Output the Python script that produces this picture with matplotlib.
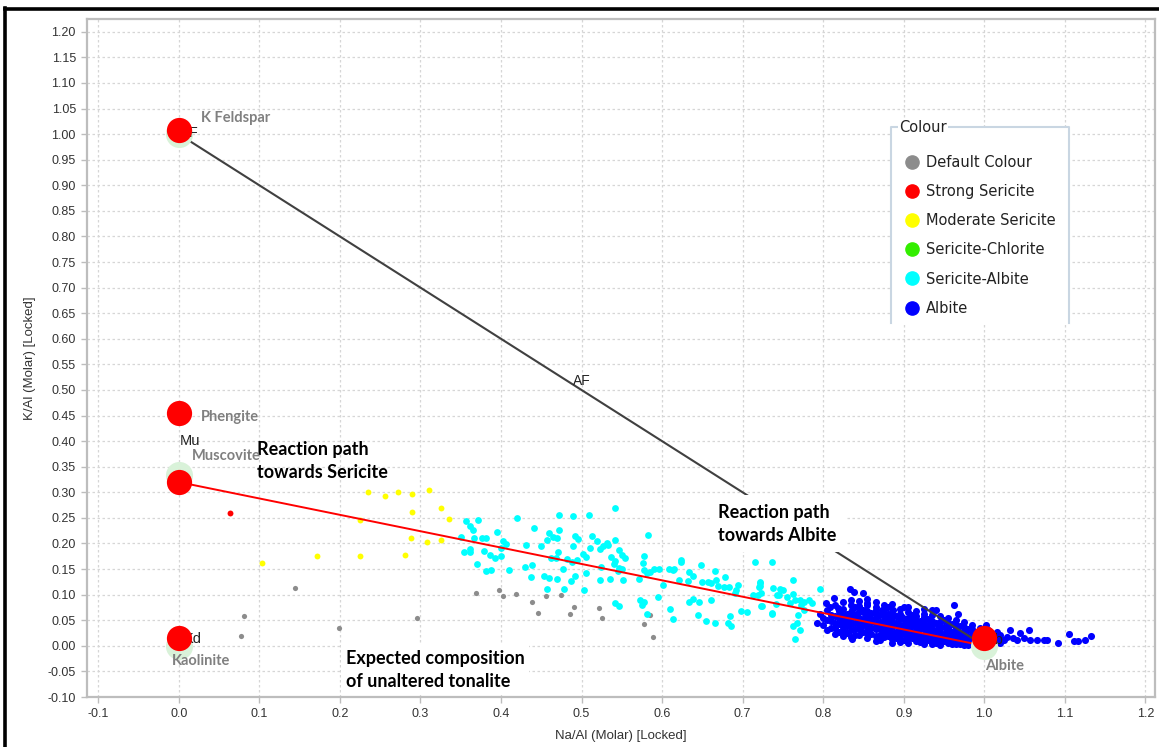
import matplotlib.pyplot as plt
from matplotlib.lines import Line2D
from matplotlib.patches import Rectangle
from matplotlib.ticker import MultipleLocator, FormatStrFormatter

# Na/Al vs K/Al (molar) for each alteration class, as (na, k) pairs
default_colour = [
    (0.077, 0.019), (0.081, 0.058), (0.144, 0.113), (0.199, 0.034), (0.296, 0.054),
    (0.369, 0.104), (0.398, 0.110), (0.403, 0.097), (0.419, 0.101), (0.438, 0.086),
    (0.446, 0.064), (0.456, 0.098), (0.475, 0.099), (0.491, 0.076), (0.486, 0.062),
    (0.522, 0.073), (0.525, 0.054), (0.578, 0.043), (0.585, 0.060), (0.589, 0.018),
]
strong_sericite = [(0.063, 0.260)]
moderate_sericite = [
    (0.103, 0.161), (0.172, 0.176), (0.225, 0.245), (0.225, 0.175), (0.235, 0.300),
    (0.256, 0.292), (0.272, 0.301), (0.290, 0.296), (0.289, 0.261), (0.288, 0.211),
    (0.281, 0.177), (0.308, 0.202), (0.311, 0.305), (0.326, 0.270), (0.325, 0.206),
    (0.335, 0.248),
]
sericite_chlorite = []
sericite_albite = [
    (0.356, 0.244), (0.361, 0.234), (0.365, 0.226), (0.372, 0.245), (0.350, 0.213),
    (0.366, 0.211), (0.376, 0.210), (0.381, 0.211), (0.361, 0.189), (0.354, 0.184),
    (0.362, 0.184), (0.379, 0.185), (0.386, 0.177), (0.370, 0.159), (0.382, 0.147),
    (0.388, 0.148), (0.393, 0.171), (0.400, 0.175), (0.395, 0.222), (0.402, 0.204),
    (0.406, 0.199), (0.400, 0.191), (0.410, 0.149), (0.420, 0.250), (0.430, 0.154),
    (0.438, 0.157), (0.431, 0.198), (0.441, 0.231), (0.437, 0.134), (0.450, 0.196),
    (0.453, 0.136), (0.457, 0.207), (0.460, 0.132), (0.457, 0.112), (0.460, 0.221),
    (0.465, 0.213), (0.462, 0.171), (0.468, 0.172), (0.471, 0.184), (0.472, 0.256),
    (0.472, 0.226), (0.470, 0.210), (0.469, 0.130), (0.477, 0.151), (0.478, 0.112),
    (0.482, 0.169), (0.488, 0.164), (0.489, 0.195), (0.494, 0.167), (0.492, 0.215),
    (0.496, 0.209), (0.490, 0.254), (0.492, 0.136), (0.487, 0.127), (0.502, 0.180),
    (0.509, 0.256), (0.505, 0.173), (0.506, 0.142), (0.503, 0.110), (0.511, 0.191),
    (0.513, 0.215), (0.519, 0.205), (0.523, 0.189), (0.524, 0.155), (0.523, 0.128),
    (0.527, 0.195), (0.531, 0.200), (0.533, 0.197), (0.535, 0.131), (0.542, 0.270),
    (0.537, 0.174), (0.540, 0.160), (0.542, 0.207), (0.546, 0.187), (0.542, 0.165),
    (0.545, 0.147), (0.547, 0.152), (0.550, 0.178), (0.554, 0.172), (0.550, 0.150),
    (0.552, 0.129), (0.542, 0.084), (0.547, 0.078), (0.571, 0.130), (0.576, 0.161),
    (0.578, 0.149), (0.578, 0.176), (0.583, 0.216), (0.581, 0.143), (0.585, 0.145),
    (0.590, 0.150), (0.596, 0.150), (0.578, 0.086), (0.575, 0.080), (0.573, 0.090),
    (0.595, 0.095), (0.581, 0.062), (0.601, 0.118), (0.608, 0.150), (0.614, 0.148),
    (0.615, 0.151), (0.621, 0.128), (0.623, 0.167), (0.624, 0.163), (0.633, 0.145),
    (0.632, 0.126), (0.610, 0.071), (0.613, 0.053), (0.634, 0.085), (0.639, 0.092),
    (0.639, 0.137), (0.644, 0.060), (0.646, 0.086), (0.648, 0.158), (0.649, 0.124),
    (0.655, 0.048), (0.657, 0.125), (0.661, 0.089), (0.661, 0.123), (0.666, 0.147),
    (0.666, 0.045), (0.670, 0.117), (0.667, 0.128), (0.678, 0.134), (0.677, 0.115),
    (0.683, 0.114), (0.682, 0.044), (0.684, 0.058), (0.686, 0.038), (0.692, 0.110),
    (0.694, 0.118), (0.690, 0.103), (0.698, 0.068), (0.706, 0.067), (0.713, 0.099),
    (0.715, 0.163), (0.721, 0.123), (0.723, 0.103), (0.721, 0.117), (0.723, 0.078),
    (0.736, 0.163), (0.738, 0.113), (0.736, 0.062), (0.742, 0.082), (0.743, 0.099),
    (0.722, 0.125), (0.720, 0.115), (0.719, 0.099), (0.724, 0.077), (0.736, 0.064),
    (0.747, 0.112), (0.750, 0.110), (0.745, 0.099), (0.755, 0.096), (0.763, 0.128),
    (0.763, 0.102), (0.765, 0.089), (0.759, 0.083), (0.771, 0.089), (0.773, 0.080),
    (0.776, 0.086), (0.769, 0.060), (0.767, 0.044), (0.763, 0.038), (0.771, 0.031),
    (0.765, 0.014), (0.782, 0.089), (0.786, 0.083), (0.796, 0.112), (0.776, 0.070),
]
albite = [
    (0.792, 0.045), (0.796, 0.063), (0.804, 0.084), (0.809, 0.076), (0.814, 0.093),
    (0.815, 0.034), (0.819, 0.073), (0.821, 0.063), (0.825, 0.031), (0.827, 0.050),
    (0.833, 0.112), (0.836, 0.070), (0.838, 0.106), (0.836, 0.013), (0.842, 0.063),
    (0.844, 0.047), (0.846, 0.037), (0.850, 0.104), (0.854, 0.083), (0.852, 0.063),
    (0.856, 0.031), (0.858, 0.057), (0.860, 0.047), (0.865, 0.070), (0.867, 0.018),
    (0.871, 0.041), (0.873, 0.070), (0.875, 0.031), (0.879, 0.054), (0.881, 0.076),
    (0.883, 0.044), (0.887, 0.070), (0.889, 0.018), (0.894, 0.038), (0.898, 0.057),
    (0.900, 0.076), (0.902, 0.044), (0.904, 0.021), (0.908, 0.034), (0.912, 0.050),
    (0.916, 0.012), (0.918, 0.028), (0.921, 0.044), (0.925, 0.057), (0.927, 0.015),
    (0.931, 0.034), (0.935, 0.070), (0.937, 0.025), (0.940, 0.070), (0.943, 0.012),
    (0.945, 0.038), (0.950, 0.021), (0.954, 0.028), (0.958, 0.008), (0.962, 0.080),
    (0.964, 0.038), (0.968, 0.063), (0.966, 0.015), (0.970, 0.012), (0.974, 0.021),
    (0.978, 0.008), (0.983, 0.031), (0.987, 0.021), (1.002, 0.041), (1.016, 0.028),
    (1.020, 0.021), (1.024, 0.012), (1.028, 0.018), (1.032, 0.031), (1.036, 0.015),
    (1.041, 0.012), (1.045, 0.025), (1.049, 0.015), (1.055, 0.030), (1.057, 0.012),
    (1.065, 0.012), (1.074, 0.012), (1.078, 0.012), (1.092, 0.006), (1.105, 0.023),
    (1.111, 0.010), (1.117, 0.010), (1.125, 0.012), (1.133, 0.019),
    (0.800, 0.055), (0.800, 0.040), (0.810, 0.060), (0.810, 0.048), (0.810, 0.035),
    (0.820, 0.068), (0.820, 0.055), (0.820, 0.042), (0.820, 0.028), (0.830, 0.062),
    (0.830, 0.050), (0.830, 0.038), (0.830, 0.026), (0.840, 0.075), (0.840, 0.058),
    (0.840, 0.045), (0.840, 0.032), (0.840, 0.022), (0.850, 0.070), (0.850, 0.052),
    (0.850, 0.040), (0.850, 0.028), (0.860, 0.065), (0.860, 0.050), (0.860, 0.035),
    (0.860, 0.024), (0.870, 0.060), (0.870, 0.047), (0.870, 0.033), (0.870, 0.022),
    (0.870, 0.012), (0.880, 0.062), (0.880, 0.042), (0.880, 0.030), (0.880, 0.020),
    (0.890, 0.058), (0.890, 0.045), (0.890, 0.028), (0.890, 0.015), (0.900, 0.052),
    (0.900, 0.035), (0.900, 0.025), (0.900, 0.012), (0.910, 0.060), (0.910, 0.040),
    (0.910, 0.026), (0.910, 0.016), (0.920, 0.048), (0.920, 0.034), (0.920, 0.020),
    (0.920, 0.008), (0.930, 0.052), (0.930, 0.040), (0.930, 0.026), (0.930, 0.012),
    (0.940, 0.045), (0.940, 0.030), (0.940, 0.018), (0.940, 0.006), (0.950, 0.050),
    (0.950, 0.036), (0.950, 0.024), (0.950, 0.010), (0.960, 0.042), (0.960, 0.028),
    (0.960, 0.016), (0.960, 0.004), (0.970, 0.038), (0.970, 0.025), (0.970, 0.012),
    (0.970, 0.003), (0.980, 0.032), (0.980, 0.020), (0.980, 0.010), (0.980, 0.002),
    (0.990, 0.028), (0.990, 0.015), (0.990, 0.006), (1.000, 0.025), (1.000, 0.005),
    (1.010, 0.020), (1.010, 0.008), (1.020, 0.015), (1.020, 0.005),
    (0.805, 0.070), (0.805, 0.050), (0.805, 0.030), (0.815, 0.080), (0.815, 0.058),
    (0.815, 0.044), (0.815, 0.024), (0.825, 0.085), (0.825, 0.072), (0.825, 0.060),
    (0.825, 0.046), (0.825, 0.036), (0.825, 0.020), (0.835, 0.090), (0.835, 0.080),
    (0.835, 0.066), (0.835, 0.054), (0.835, 0.042), (0.835, 0.030), (0.835, 0.018),
    (0.845, 0.088), (0.845, 0.077), (0.845, 0.066), (0.845, 0.054), (0.845, 0.043),
    (0.845, 0.033), (0.845, 0.022), (0.855, 0.092), (0.855, 0.080), (0.855, 0.068),
    (0.855, 0.058), (0.855, 0.046), (0.855, 0.036), (0.855, 0.025), (0.855, 0.016),
    (0.865, 0.085), (0.865, 0.076), (0.865, 0.064), (0.865, 0.054), (0.865, 0.043),
    (0.865, 0.032), (0.865, 0.020), (0.865, 0.010), (0.875, 0.080), (0.875, 0.070),
    (0.875, 0.060), (0.875, 0.050), (0.875, 0.040), (0.875, 0.028), (0.875, 0.017),
    (0.885, 0.082), (0.885, 0.066), (0.885, 0.056), (0.885, 0.048), (0.885, 0.036),
    (0.885, 0.025), (0.885, 0.013), (0.885, 0.006), (0.895, 0.072), (0.895, 0.063),
    (0.895, 0.052), (0.895, 0.041), (0.895, 0.030), (0.895, 0.020), (0.895, 0.008),
    (0.905, 0.075), (0.905, 0.066), (0.905, 0.055), (0.905, 0.046), (0.905, 0.038),
    (0.905, 0.028), (0.905, 0.016), (0.905, 0.006), (0.915, 0.068), (0.915, 0.058),
    (0.915, 0.048), (0.915, 0.038), (0.915, 0.030), (0.915, 0.020), (0.915, 0.010),
    (0.925, 0.072), (0.925, 0.062), (0.925, 0.050), (0.925, 0.042), (0.925, 0.032),
    (0.925, 0.022), (0.925, 0.012), (0.925, 0.004), (0.935, 0.060), (0.935, 0.048),
    (0.935, 0.040), (0.935, 0.030), (0.935, 0.020), (0.935, 0.010), (0.935, 0.003),
    (0.945, 0.058), (0.945, 0.046), (0.945, 0.036), (0.945, 0.027), (0.945, 0.018),
    (0.945, 0.008), (0.945, 0.002), (0.955, 0.055), (0.955, 0.044), (0.955, 0.034),
    (0.955, 0.024), (0.955, 0.015), (0.955, 0.006), (0.965, 0.050), (0.965, 0.040),
    (0.965, 0.030), (0.965, 0.021), (0.965, 0.012), (0.965, 0.004), (0.975, 0.046),
    (0.975, 0.036), (0.975, 0.027), (0.975, 0.018), (0.975, 0.008), (0.975, 0.001),
    (0.985, 0.040), (0.985, 0.032), (0.985, 0.022), (0.985, 0.014), (0.985, 0.005),
    (0.995, 0.035), (0.995, 0.026), (0.995, 0.018), (0.995, 0.010), (0.995, 0.002),
    (1.005, 0.030), (1.005, 0.022), (1.005, 0.012), (1.005, 0.004), (1.015, 0.024),
    (1.015, 0.016), (1.015, 0.008),
]

# ideal end-members (pale markers) and plotted mineral points (red)
end_member_codes = ["KF", "Mu", "Kd", "Ab"]
end_member_na = [0.0, 0.0, 0.0, 1.0]
end_member_k = [1.0, 0.333, 0.0, 0.0]
mineral_names = ["K Feldspar", "Phengite", "Muscovite", "Kaolinite", "Albite"]
mineral_na = [0.0, 0.0, 0.0, 0.0, 1.0]
mineral_k = [1.008, 0.455, 0.320, 0.015, 0.015]

# reference lines: K feldspar - albite join and muscovite - albite path
af_line_na = [0.0, 1.0]
af_line_k = [1.0, 0.0]
sericite_path_na = [0.0, 1.0]
sericite_path_k = [0.320, 0.0]

groups = [
    ("Default Colour", default_colour, "#8c8c8c", 14),
    ("Strong Sericite", strong_sericite, "#ff0000", 18),
    ("Moderate Sericite", moderate_sericite, "#ffff00", 18),
    ("Sericite-Chlorite", sericite_chlorite, "#33ee00", 22),
    ("Sericite-Albite", sericite_albite, "#00ffff", 24),
    ("Albite", albite, "#0000ff", 26),
]

fig = plt.figure(figsize=(11.59, 7.47), dpi=100)
ax = fig.add_axes([87 / 1159, 1 - 697 / 747, 1068 / 1159, 678 / 747])

ax.set_xlim(-0.114, 1.212)
ax.set_ylim(-0.100, 1.225)
ax.xaxis.set_major_locator(MultipleLocator(0.1))
ax.yaxis.set_major_locator(MultipleLocator(0.05))
ax.xaxis.set_major_formatter(FormatStrFormatter("%.1f"))
ax.yaxis.set_major_formatter(FormatStrFormatter("%.2f"))
ax.grid(True, color="#d6d6d6", linestyle=(0, (2, 2)), linewidth=0.9, zorder=0)
ax.set_axisbelow(True)
for side in ax.spines.values():
    side.set_color("#bdbdbd")
    side.set_linewidth(1.6)
    side.set_zorder(10)
ax.tick_params(colors="#bdbdbd", labelcolor="#333333", length=4, width=1,
               labelsize=9, pad=4)
for lbl in ax.get_xticklabels() + ax.get_yticklabels():
    lbl.set_family("Liberation Sans")
ax.set_xlabel("Na/Al (Molar) [Locked]", family="Liberation Sans", fontsize=9.5,
              color="#333333", labelpad=7)
ax.set_ylabel("K/Al (Molar) [Locked]", family="Liberation Sans", fontsize=9.5,
              color="#333333", labelpad=8)

for name, pts, colour, size in groups:
    if pts:
        na, k = zip(*pts)
        ax.scatter(na, k, s=size, color=colour, linewidths=0, zorder=2)

ax.plot(af_line_na, af_line_k, color="#404040", linewidth=1.5, zorder=3)
ax.plot(sericite_path_na, sericite_path_k, color="#ff0000", linewidth=1.4, zorder=3)
ax.annotate("AF", xy=(sum(af_line_na) / 2, sum(af_line_k) / 2), xytext=(0, 9),
            textcoords="offset pixels", ha="center", va="center",
            family="Liberation Sans", fontsize=10, color="#222222", zorder=3)

ax.scatter(end_member_na, end_member_k, s=380, color="#d9f2d9", linewidths=0, zorder=4)
code_offsets = [(1, 1), (1, 34), (5, 7), (2, 6)]
for code, x, y, off in zip(end_member_codes, end_member_na, end_member_k, code_offsets):
    ax.annotate(code, xy=(x, y), xytext=off, textcoords="offset pixels",
                ha="left", va="center", family="Liberation Sans", fontsize=10.5,
                color="#222222", zorder=4.5)

ax.scatter(mineral_na, mineral_k, s=330, color="#ff0000", linewidths=0, zorder=5)

callout = dict(family=["Lato", "DejaVu Sans"], fontweight="bold", fontsize=13,
               color="black", ha="left", va="top", linespacing=1.45, zorder=7)
white_box = dict(boxstyle="square,pad=0.45", facecolor="white", edgecolor="none")
ax.text(0.097, 0.400, "Reaction path\ntowards Sericite", **callout)
ax.text(0.670, 0.278, "Reaction path\ntowards Albite", bbox=white_box, **callout)
ax.text(0.207, -0.008, "Expected composition\nof unaltered tonalite",
        bbox=dict(white_box, boxstyle="square,pad=0.25"), **callout)

name_offsets = [(22, 12), (22, -4), (13, 26), (-7, -23), (1, -28)]
for name, x, y, off in zip(mineral_names, mineral_na, mineral_k, name_offsets):
    ax.annotate(name, xy=(x, y), xytext=off, textcoords="offset pixels",
                ha="left", va="center", family=["Lato", "DejaVu Sans"],
                fontweight="bold", fontsize=10.5, color="#808080", zorder=7.5)

# legend panel: white card with an open-bottom border and a "Colour" caption
x0, x1 = (891 - 87) / 1068, (1069 - 87) / 1068
y0, y1 = (697 - 323) / 678, (697 - 127) / 678
ax.add_patch(Rectangle((x0, y0), x1 - x0, y1 - y0, transform=ax.transAxes,
                       facecolor="white", edgecolor="none", zorder=8))
ax.add_line(Line2D([x0, x0, x1, x1], [y0, y1, y1, y0], transform=ax.transAxes,
                   color="#c9d6e2", linewidth=1.5, zorder=8.1))
ax.text((899 - 87) / 1068, y1, "Colour", transform=ax.transAxes, ha="left",
        va="center", fontsize=10.5, color="#222222", zorder=8.2,
        bbox=dict(boxstyle="square,pad=0.1", facecolor="white", edgecolor="none"))
handles = [Line2D([], [], marker="o", linestyle="none", color=c, markersize=9.5,
                  label=n) for n, _, c, _ in groups]
leg = ax.legend(handles=handles, loc="upper left",
                bbox_to_anchor=((905 - 87) / 1068, (697 - 155) / 678),
                frameon=False, fontsize=10.5, handlelength=1.0, handletextpad=0.45,
                labelspacing=0.97, borderpad=0, borderaxespad=0)
leg.set_zorder(9)
for t in leg.get_texts():
    t.set_color("#222222")

# outer frame edges
fig.add_artist(Line2D([5 / 1159, 5 / 1159], [0, 1 - 8 / 747], transform=fig.transFigure,
                      color="black", linewidth=2.6))
fig.add_artist(Line2D([5 / 1159, 1], [1 - 9 / 747, 1 - 9 / 747], transform=fig.transFigure,
                      color="black", linewidth=2.6))

fig.savefig("out.png", dpi=100)
